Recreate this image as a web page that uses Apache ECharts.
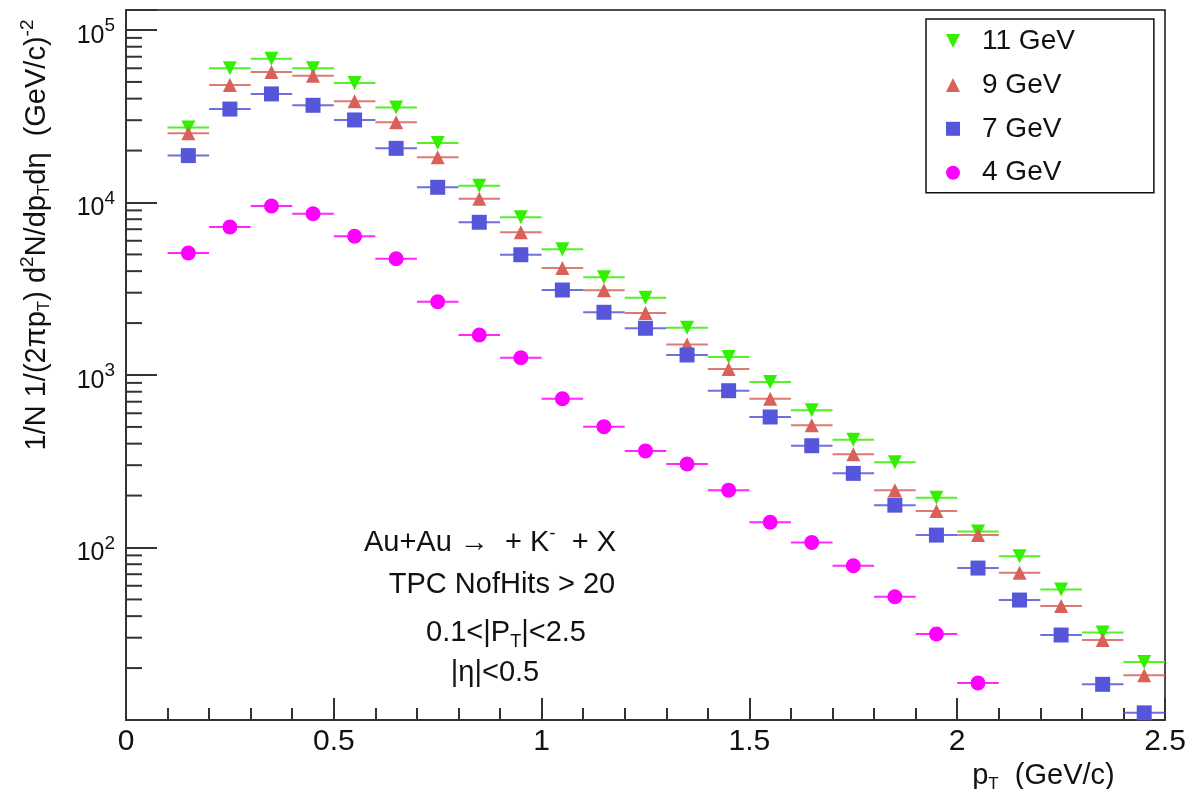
<!DOCTYPE html>
<html><head><meta charset="utf-8">
<script src="https://cdn.jsdelivr.net/npm/echarts@6/dist/echarts.min.js"></script>
<style>html,body{margin:0;padding:0;background:#fff}#c{width:1190px;height:789px}</style>
</head><body><div id="c"></div>
<script>
// ---- data ----
const pt = [0.15,0.25,0.35,0.45,0.55,0.65,0.75,0.85,0.95,1.05,1.15,1.25,1.35,1.45,1.55,1.65,1.75,1.85,1.95,2.05,2.15,2.25,2.35,2.45];
const binHalfWidth = 0.05;
const gev11 = [27200,60000,68200,60000,49300,35600,22100,12500,8210,5350,3690,2800,1880,1270,911,624,422,312,194,124,89,57,32.2,21.7];
const gev9  = [25200,48000,57100,54300,38600,29200,18300,10500,6720,4170,3100,2290,1500,1084,729,511,347,215,163,118,71.4,45.8,29.1,18.2];
const gev7  = [18700,34800,42600,36600,30100,20600,12250,7680,4980,3110,2310,1866,1306,811,571,389,269,176,118,76,49.6,31.1,16.1,11.0];
const gev4  = [5100,7210,9550,8610,6370,4720,2660,1706,1260,729,502,363,305,215,140,107,78.4,51.8,31.5,16.4];
const seriesNames = ['11 GeV','9 GeV','7 GeV','4 GeV'];
const xTickLabels = ['0','0.5','1','1.5','2','2.5'];
const yMinorTicks = [20,30,40,50,60,70,80,90,200,300,400,500,600,700,800,900,2000,3000,4000,5000,6000,7000,8000,9000,20000,30000,40000,50000,60000,70000,80000,90000];

const FONT = 'Liberation Sans, Arial, Helvetica, sans-serif';
const colors = ['#33f000','#d8625a','#5656da','#ff00ff'];
const symbols = ['path://M0,0L10,0L5,10Z','triangle','rect','circle'];
const sizes = [[14,14],[14,14],[15,15],[15,15]];
const allData = [gev11, gev9, gev7, gev4];

const series = [];
allData.forEach((vals, k) => {
  const d = vals.map((v, i) => [pt[i], v]);
  series.push({
    type: 'custom', name: seriesNames[k] + ' err', silent: true, z: 2 + k * 2,
    data: d,
    renderItem: (params, api) => {
      const x = api.value(0), y = api.value(1);
      const a = api.coord([x - binHalfWidth, y]);
      const b = api.coord([x + binHalfWidth, y]);
      return { type: 'line', shape: { x1: a[0], y1: a[1], x2: b[0], y2: b[1] },
               style: { stroke: colors[k], lineWidth: 2, opacity: 0.85 } };
    }
  });
  series.push({
    type: 'scatter', name: seriesNames[k], z: 3 + k * 2,
    symbol: symbols[k], symbolSize: sizes[k],
    itemStyle: { color: colors[k], opacity: 1 },
    data: d
  });
});
// minor log ticks on the y axis
series.push({
  type: 'custom', silent: true, z: 20,
  data: yMinorTicks.map(v => [0, v]),
  renderItem: (params, api) => {
    const p = api.coord([0, api.value(1)]);
    return { type: 'line', shape: { x1: p[0], y1: p[1], x2: p[0] + 16, y2: p[1] },
             style: { stroke: '#333', lineWidth: 2 } };
  }
});

const chart = echarts.init(document.getElementById('c'));
chart.setOption({
  animation: false,
  backgroundColor: '#fff',
  textStyle: { fontFamily: FONT },
  grid: { left: 126, right: 25, top: 10, bottom: 69, outerBoundsMode: 'none', containLabel: false,
          show: true, borderColor: '#111', borderWidth: 1.5, backgroundColor: 'transparent' },
  legend: {
    data: seriesNames, orient: 'vertical', left: 926, top: 19,
    padding: [8, 79, 6, 20], itemGap: 15.9, itemWidth: 14, itemHeight: 14,
    borderColor: '#111', borderWidth: 1.5, backgroundColor: '#fff',
    textStyle: { fontFamily: FONT, fontSize: 28, color: '#111', lineHeight: 26, padding: [0, 0, 0, 17] },
    selectedMode: false
  },
  xAxis: {
    type: 'value', min: 0, max: 2.5, interval: 0.5,
    axisLine: { lineStyle: { color: '#333', width: 2 } },
    axisTick: { inside: true, length: 22, lineStyle: { color: '#333', width: 2 } },
    minorTick: { show: true, splitNumber: 5, length: 12, lineStyle: { color: '#333', width: 2 } },
    splitLine: { show: false },
    axisLabel: { fontFamily: FONT, fontSize: 30, color: '#111', margin: 7,
      formatter: v => xTickLabels[Math.round(v / 0.5)] },
    name: 'p{sub|T}  (GeV/c)', nameLocation: 'middle', nameGap: 35,
    nameTextStyle: { fontFamily: FONT, fontSize: 29, color: '#111', padding: [0, 0, 0, 796],
      rich: { sub: { fontSize: 17, padding: [16, 0, 0, 0] } } }
  },
  yAxis: {
    type: 'log', min: 10, max: 130600, logBase: 10,
    axisLine: { lineStyle: { color: '#333', width: 2 } },
    axisTick: { inside: true, length: 31, lineStyle: { color: '#333', width: 2 } },
    splitLine: { show: false },
    axisLabel: { fontFamily: FONT, color: '#111', margin: 11,
      formatter: v => {
        const e = Math.log10(v); const r = Math.round(e);
        if (Math.abs(e - r) > 1e-6 || r < 2 || r > 5) return '';
        return '{b|10}{s|' + r + '}';
      },
      rich: { b: { fontSize: 25, lineHeight: 25, padding: [12, 0, 0, 0] },
              s: { fontSize: 19, lineHeight: 25, padding: [0, 0, 8, 0] } } },
    name: '1/N 1/(2πp{sub|T}) d{sup|2}N/dp{sub|T}dη  (GeV/c){sup|-2}',
    nameLocation: 'middle', nameRotate: 90, nameGap: 71,
    nameTextStyle: { fontFamily: FONT, fontSize: 29, color: '#111', padding: [0, 0, 0, 260],
      rich: { sub: { fontSize: 17, padding: [16, 0, 0, 0] }, sup: { fontSize: 19, padding: [0, 0, 18, 0] } } }
  },
  graphic: [
    { type: 'text', style: { x: 490, y: 543, text: 'Au+Au →  + K{sup|-}  + X', align: 'center', verticalAlign: 'middle',
        fontFamily: FONT, fontSize: 29, fill: '#111', rich: { sup: { fontSize: 19, padding: [0, 0, 18, 0] } } } },
    { type: 'text', style: { x: 502, y: 585, text: 'TPC NofHits > 20', align: 'center', verticalAlign: 'middle',
        fontFamily: FONT, fontSize: 29, fill: '#111' } },
    { type: 'text', style: { x: 506, y: 633, text: '0.1<|P{sub|T}|<2.5', align: 'center', verticalAlign: 'middle',
        fontFamily: FONT, fontSize: 29, fill: '#111', rich: { sub: { fontSize: 18, padding: [18, 0, 0, 0] } } } },
    { type: 'text', style: { x: 495, y: 673, text: '|η|<0.5', align: 'center', verticalAlign: 'middle',
        fontFamily: FONT, fontSize: 29, fill: '#111' } }
  ],
  series: series
});
</script></body></html>
